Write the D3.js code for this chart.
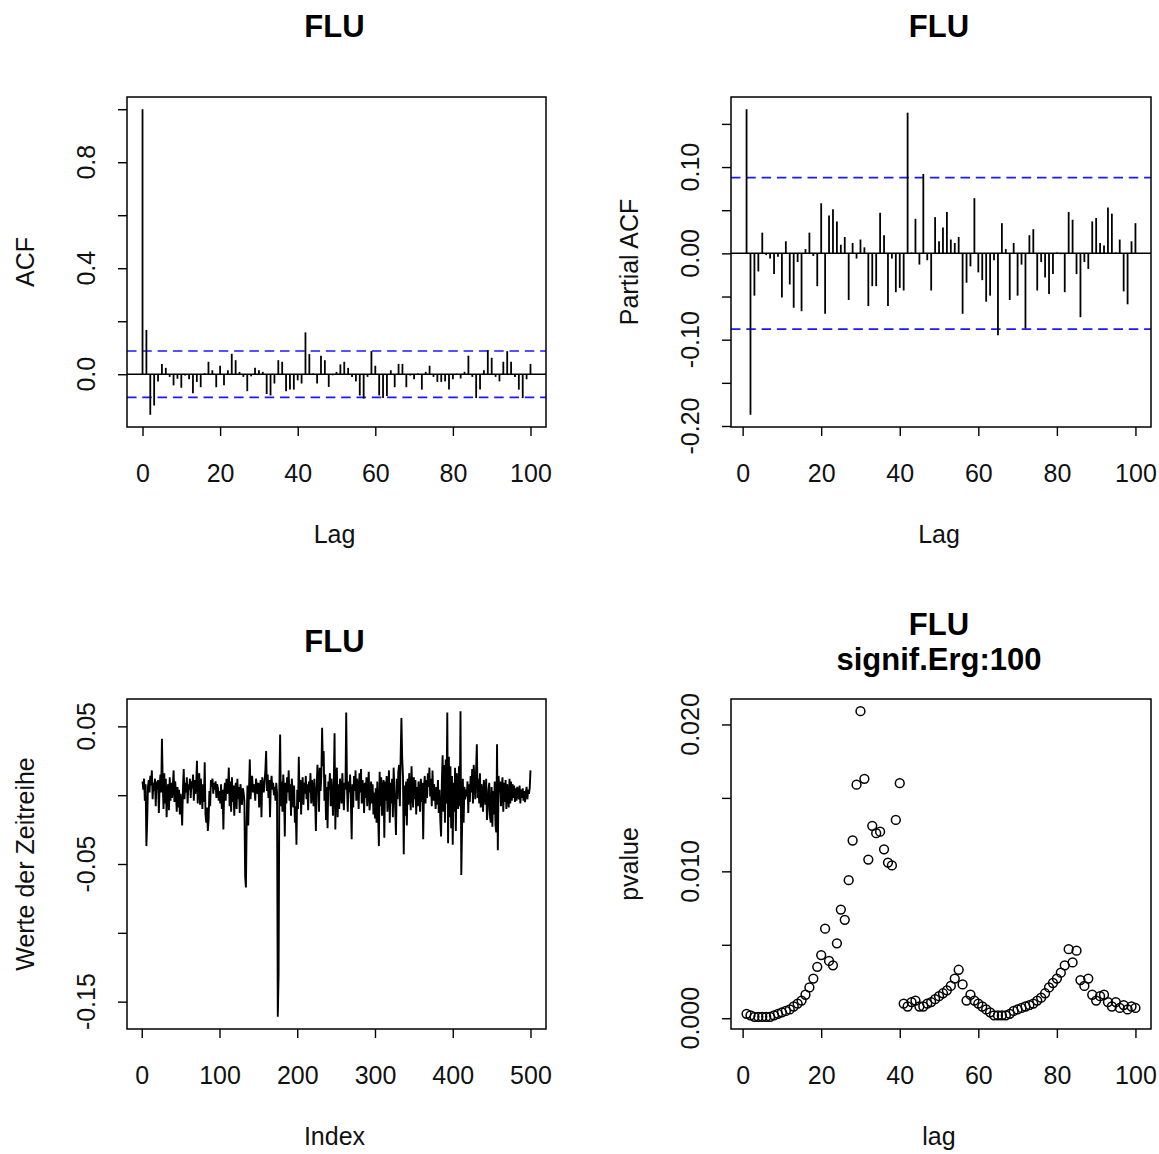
<!DOCTYPE html>
<html>
<head>
<meta charset="utf-8">
<script src="https://cdn.jsdelivr.net/npm/d3@7"></script>
<style>
  body { margin: 0; background: #fff; }
  text { font-family: "Liberation Sans", Arial, sans-serif; fill: #111; }
</style>
</head>
<body>
<svg id="chart"></svg>
<script>
// ---- data ----
var acfLags = d3.range(0, 101);
var acfValues = [1.000, .167, -.153, -.118, -.027, .039, .024, -.010, -.042, -.017,
  -.051, -.005, -.019, -.072, -.029, -.049, .004, .047, .015, -.049,
  .032, -.042, .015, .077, .053, .009, -.010, -.064, -.008, .024,
  .015, .009, -.075, -.080, -.035, .053, .047, -.064, -.058, -.058,
  -.023, -.035, .158, .076, .003, -.035, .070, .053, -.048, -.004,
  .009, .037, .047, .024, -.010, -.027, -.080, -.092, -.010, .087,
  .032, -.080, -.090, -.082, .015, -.049, .039, .039, -.049, -.005,
  -.019, .003, -.058, .009, .032, -.010, -.029, -.029, -.027, -.058,
  -.019, .002, -.016, .009, .070, -.010, -.090, -.058, .015, .091,
  .062, -.010, -.027, .047, .087, .047, -.010, -.058, -.090, -.019,
  .039];

var pacfLags = d3.range(1, 101);
var pacfValues = [.167, -.187, -.049, -.021, .024, -.002, -.006, -.024, -.004, -.051,
  .014, -.036, -.063, -.010, -.067, .005, .024, -.003, -.038, .058,
  -.070, .044, .051, .037, .010, .019, -.054, .012, -.006, .016,
  .007, -.061, -.038, -.038, .047, .021, -.061, -.006, -.045, -.040,
  -.043, .163, .001, .040, -.013, .092, -.008, -.043, .042, .014,
  .030, .048, .016, .012, .019, -.070, -.034, -.015, .064, -.022,
  -.031, -.056, -.049, -.008, -.095, .035, .005, -.054, .012, -.049,
  -.013, -.087, .021, .028, -.043, -.010, -.028, -.047, -.024, .001,
  -.001, -.045, .048, .039, -.024, -.074, -.010, -.018, .037, .041,
  .012, .009, .053, .046, .001, .016, -.044, -.059, .014, .035];

var ciLimit = 0.0877; // 1.96 / sqrt(500)

var seriesValues = [
  .010, .004, .012, -.004, .008, -.037, -.019, .006, .011, .002,
  .014, .007, .018, -.003, .009, .003, .012, -.008, .010, .004,
  .011, -.013, .006, .015, .002, .041, .009, -.010, .016, -.006,
  .012, -.016, .003, .008, -.011, .013, -.004, .009, -.002, .007,
  .018, -.005, .010, .002, -.012, .006, -.009, .004, -.014, .001,
  -.008, -.022, .005, .019, -.003, .009, .002, .013, -.006, .008,
  .004, .012, -.002, .010, .005, .015, -.004, .011, .001, .007,
  .025, -.006, .009, .016, -.007, .012, .003, -.010, .008, -.005,
  .024, -.014, -.020, -.009, -.026, -.018, .003, -.008, .011, .006,
  .012, .001, .009, .004, .010, -.002, .008, .005, -.004, .003,
  -.006, .008, -.010, .004, -.025, .002, .009, -.004, .012, .001,
  .006, .020, -.008, .010, -.012, .013, -.005, .007, -.015, .004,
  .009, -.010, .012, -.003, .006, -.013, .008, .001, -.007, .005,
  .002, -.004, -.059, -.067, -.018, .007, -.022, .005, .026, -.003,
  .010, .014, .002, .008, .004, -.004, .012, .006, .001, .009,
  -.009, .005, .011, -.016, .013, .007, .002, .010, .018, .032,
  .003, .015, -.002, .011, -.016, .008, .014, .004, .009, .000,
  .006, -.004, .009, .002, -.161, -.130, .006, .044, -.008, .010,
  -.012, .015, .004, -.030, .009, -.006, .013, .002, .018, -.004,
  .008, -.015, .012, .003, -.009, .007, -.020, -.008, -.036, .004,
  -.010, .028, -.005, .011, -.014, .006, .013, -.007, .009, .001,
  .014, -.003, .008, -.011, .010, .002, .016, -.006, .011, .004,
  -.008, .012, -.003, -.026, .006, .022, .010, -.012, .020, .003,
  .014, .049, .021, .032, -.004, .015, -.018, .006, -.024, .010,
  .004, .016, -.008, .012, .002, -.015, .009, .045, -.025, .013,
  .020, -.016, .008, -.010, .012, .003, -.006, .016, .001, -.011,
  .009, .004, .060, .006, -.012, .010, .002, .015, -.005, -.032,
  .008, -.009, .014, .003, .018, -.004, .012, .006, -.010, .016,
  .002, .019, -.006, .011, .004, -.013, .009, -.002, .013, -.008,
  .006, .017, -.011, -.003, .010, -.006, .008, -.014, .002, -.017,
  .005, -.020, .010, -.012, -.037, .017, -.008, .013, -.015, .006,
  .011, -.031, .010, -.004, .014, -.012, .003, .018, -.020, .009,
  -.006, .012, -.016, .020, .004, -.010, -.029, .012, -.003, .017,
  .022, -.008, .028, .056, .027, .014, -.043, .007, -.015, .010,
  -.022, .012, -.007, .016, .002, -.011, .021, .004, -.009, .013,
  -.003, .011, -.014, .006, -.008, .010, .002, -.012, .012, -.005,
  .009, -.032, .004, .014, -.006, .011, -.002, .016, .006, .020,
  -.001, .012, -.008, .018, -.004, .008, .001, -.010, .006, -.007,
  .011, -.013, .004, -.018, -.030, .010, .029, -.012, .022, -.020,
  .026, -.006, .060, -.035, .028, -.016, .021, -.024, .014, -.036,
  .009, -.012, .020, -.026, .016, .008, -.010, .021, -.008, .061,
  -.058, -.024, .012, -.020, .006, -.003, .004, -.001, .010, -.013,
  .008, -.005, .014, .002, .019, -.006, .022, .010, -.003, .018,
  .037, -.002, .012, -.006, .016, -.009, .008, .001, -.012, .011,
  .005, -.007, .012, -.018, -.011, .004, .009, -.016, -.020, .006,
  -.023, .003, -.014, .010, -.022, -.027, .037, -.040, .014, .002,
  .010, -.008, .005, .013, -.012, .009, -.005, .011, -.010, .008,
  .003, -.009, .012, -.006, .010, -.004, .008, -.002, .007, -.005,
  .005, -.004, .006, .002, -.003, .007, -.006, .004, -.002, .005,
  -.004, .003, -.005, .002, .006, -.003, .004, .001, .005, .018];

var pLags = d3.range(1, 101);
var pValues = [.0003, .0002, .0001, .0001, .0001, .0001, .0001, .0002, .0003, .0004,
  .0005, .0006, .0008, .0010, .0012, .0016, .0021, .0027, .0035, .0043,
  .0061, .0039, .0036, .0051, .0074, .0067, .0094, .0121, .0159, .0209,
  .0163, .0108, .0131, .0126, .0127, .0115, .0106, .0104, .0135, .0160,
  .0010, .0008, .0011, .0012, .0008, .0008, .0010, .0011, .0013, .0015,
  .0017, .0019, .0022, .0027, .0033, .0023, .0012, .0016, .0012, .0010,
  .0008, .0006, .0004, .0002, .0002, .0002, .0002, .0003, .0005, .0006,
  .0007, .0008, .0009, .0010, .0012, .0014, .0017, .0021, .0024, .0027,
  .0031, .0036, .0047, .0038, .0046, .0026, .0022, .0027, .0016, .0012,
  .0015, .0016, .0011, .0008, .0011, .0007, .0009, .0006, .0008, .0007];

// ticks (empty label = tick without label, like R skips overlapping ones)
var lagTicks = [0, 20, 40, 60, 80, 100];
var indexTicks = [0, 100, 200, 300, 400, 500];
var acfTicks = [0, 0.2, 0.4, 0.6, 0.8, 1.0];
var acfTickLabels = ["0.0", "", "0.4", "", "0.8", ""];
var pacfTicks = [-0.20, -0.15, -0.10, -0.05, 0, 0.05, 0.10, 0.15];
var pacfTickLabels = ["-0.20", "", "-0.10", "", "0.00", "", "0.10", ""];
var seriesTicks = [-0.15, -0.10, -0.05, 0, 0.05];
var seriesTickLabels = ["-0.15", "", "-0.05", "", "0.05"];
var pTicks = [0, 0.005, 0.010, 0.015, 0.020];
var pTickLabels = ["0.000", "", "0.010", "", "0.020"];

// ---- drawing ----
var W = 1159, H = 1154;
var FS = 25;
var svg = d3.select("#chart").attr("width", W).attr("height", H);

// R style 4% axis expansion
function pad(ext) {
  var d = (ext[1] - ext[0]) * 0.04;
  return [ext[0] - d, ext[1] + d];
}

function makePanel(box, xExt, yExt, xTicks, yTicks, yLabels, xTitle, yTitle, titles) {
  var p = {};
  p.x = d3.scaleLinear().domain(pad(xExt)).range([box.x, box.x + box.w]);
  p.y = d3.scaleLinear().domain(pad(yExt)).range([box.y + box.h, box.y]);
  p.g = svg.append("g");
  p.box = box;

  var xa = p.g.append("g")
    .attr("transform", "translate(0," + (box.y + box.h) + ")")
    .call(d3.axisBottom(p.x).tickValues(xTicks).tickSize(9).tickPadding(28).tickFormat(d3.format("d")));
  xa.select(".domain").remove();
  xa.selectAll("line").attr("stroke", "#000").attr("stroke-width", 1.4);
  xa.selectAll("text").attr("font-size", FS).attr("fill", "#111")
    .attr("font-family", "Liberation Sans, Arial, sans-serif");

  var ya = p.g.append("g")
    .attr("transform", "translate(" + box.x + ",0)")
    .call(d3.axisLeft(p.y).tickValues(yTicks).tickSize(9).tickFormat(""));
  ya.select(".domain").remove();
  ya.selectAll("line").attr("stroke", "#000").attr("stroke-width", 1.4);

  // rotated y tick labels
  p.g.selectAll(".ylab")
    .data(yTicks)
    .enter().append("text")
    .attr("class", "ylab")
    .attr("font-size", FS)
    .attr("text-anchor", "middle")
    .attr("transform", function(d) { return "translate(" + (box.x - 32) + "," + p.y(d) + ") rotate(-90)"; })
    .text(function(d, i) { return yLabels[i]; });

  p.g.append("text")
    .attr("font-size", FS)
    .attr("text-anchor", "middle")
    .attr("x", box.x + box.w / 2 - 2)
    .attr("y", box.y + box.h + 116)
    .text(xTitle);

  p.g.append("text")
    .attr("font-size", FS)
    .attr("text-anchor", "middle")
    .attr("transform", "translate(" + (box.x - 93) + "," + (box.y + box.h / 2) + ") rotate(-90)")
    .text(yTitle);

  titles.forEach(function(t) {
    p.g.append("text")
      .attr("font-size", 31)
      .attr("font-weight", "bold")
      .attr("text-anchor", "middle")
      .attr("x", box.x + box.w / 2 - 2)
      .attr("y", t.y)
      .style("fill", "#000")
      .text(t.text);
  });
  return p;
}

function drawBox(p) {
  p.g.append("rect")
    .attr("x", p.box.x).attr("y", p.box.y)
    .attr("width", p.box.w).attr("height", p.box.h)
    .attr("fill", "none").attr("stroke", "#000").attr("stroke-width", 1.5);
}

function hLine(p, v, dashed) {
  p.g.append("line")
    .attr("x1", p.box.x).attr("x2", p.box.x + p.box.w)
    .attr("y1", p.y(v)).attr("y2", p.y(v))
    .attr("stroke", dashed ? "#1a1aff" : "#000")
    .attr("stroke-width", dashed ? 1.7 : 1.5)
    .attr("stroke-dasharray", dashed ? "9.5,5.8" : null);
}

function drawSpikes(p, lags, vals) {
  p.g.selectAll(".spike")
    .data(vals)
    .enter().append("line")
    .attr("class", "spike")
    .attr("x1", function(d, i) { return p.x(lags[i]); })
    .attr("x2", function(d, i) { return p.x(lags[i]); })
    .attr("y1", p.y(0))
    .attr("y2", function(d) { return p.y(d); })
    .attr("stroke", "#000")
    .attr("stroke-width", 1.8);
}

// panel 1: ACF
var acfExt = [Math.min(d3.min(acfValues), -ciLimit), Math.max(d3.max(acfValues), ciLimit)];
var p1 = makePanel({x: 127, y: 97, w: 419, h: 330}, [0, 100], acfExt,
  lagTicks, acfTicks, acfTickLabels, "Lag", "ACF", [{text: "FLU", y: 37}]);
hLine(p1, 0, false);
hLine(p1, ciLimit, true);
hLine(p1, -ciLimit, true);
drawSpikes(p1, acfLags, acfValues);
drawBox(p1);

// panel 2: partial ACF
var pacfExt = [Math.min(d3.min(pacfValues), -ciLimit), Math.max(d3.max(pacfValues), ciLimit)];
var p2 = makePanel({x: 731, y: 97, w: 420, h: 330}, [1, 100], pacfExt,
  lagTicks, pacfTicks, pacfTickLabels, "Lag", "Partial ACF", [{text: "FLU", y: 37}]);
hLine(p2, 0, false);
hLine(p2, ciLimit, true);
hLine(p2, -ciLimit, true);
drawSpikes(p2, pacfLags, pacfValues);
drawBox(p2);

// panel 3: the series itself
var p3 = makePanel({x: 127, y: 699, w: 419, h: 330}, [1, seriesValues.length], d3.extent(seriesValues),
  indexTicks, seriesTicks, seriesTickLabels, "Index", "Werte der Zeitreihe", [{text: "FLU", y: 652}]);
var line = d3.line()
  .x(function(d, i) { return p3.x(i + 1); })
  .y(function(d) { return p3.y(d); });
p3.g.append("path")
  .datum(seriesValues)
  .attr("d", line)
  .attr("fill", "none")
  .attr("stroke", "#000")
  .attr("stroke-width", 1.9)
  .attr("stroke-linejoin", "miter");
drawBox(p3);

// panel 4: p-values
var p4 = makePanel({x: 731, y: 699, w: 420, h: 330}, [1, 100], d3.extent(pValues),
  lagTicks, pTicks, pTickLabels, "lag", "pvalue",
  [{text: "FLU", y: 635}, {text: "signif.Erg:100", y: 670}]);
p4.g.selectAll(".pt")
  .data(pValues)
  .enter().append("circle")
  .attr("class", "pt")
  .attr("cx", function(d, i) { return p4.x(pLags[i]); })
  .attr("cy", function(d) { return p4.y(d); })
  .attr("r", 4.4)
  .attr("fill", "none")
  .attr("stroke", "#000")
  .attr("stroke-width", 1.5);
drawBox(p4);
</script>
</body>
</html>
